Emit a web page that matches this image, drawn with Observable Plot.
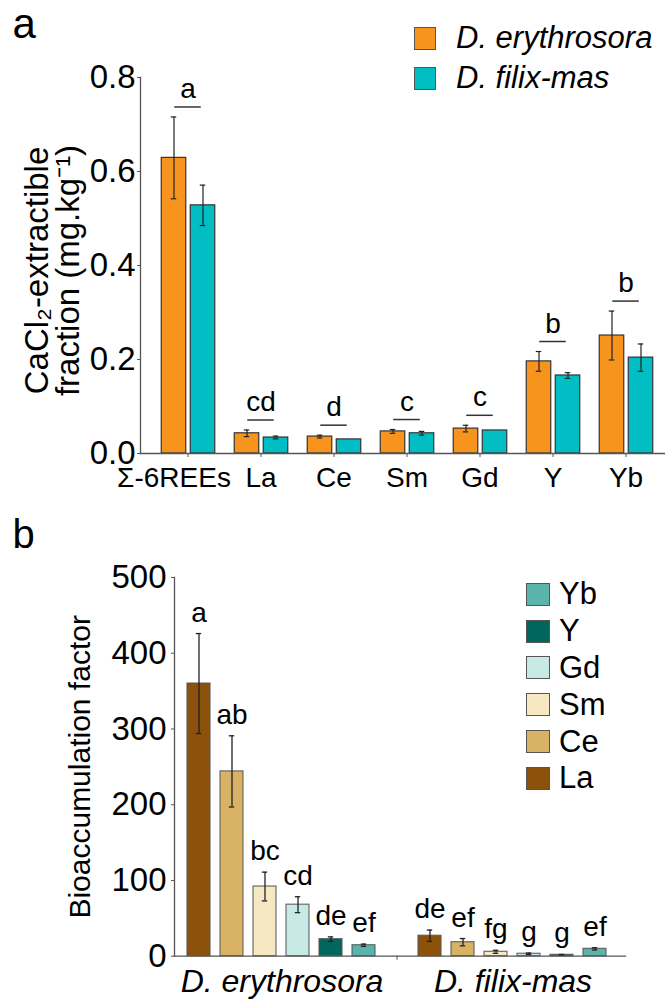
<!DOCTYPE html>
<html><head><meta charset="utf-8">
<script src="https://cdn.jsdelivr.net/npm/d3@7"></script>
<script src="https://cdn.jsdelivr.net/npm/@observablehq/plot@0.6"></script>
<style>
body{margin:0;background:#fff;font-family:"Liberation Sans",Arial,sans-serif;color:#000;}
.panel{position:relative;width:665px;height:500px;overflow:hidden;}
.legend{position:absolute;}
.row{display:flex;align-items:center;white-space:nowrap;}
.sw{box-sizing:border-box;border:1.3px solid #555;flex:none;}
</style></head><body>
<div id="pa" class="panel"></div>
<div id="pb" class="panel"></div>
<script>
// ---------- Panel a data ----------
const categoriesA = ["Σ-6REEs", "La", "Ce", "Sm", "Gd", "Y", "Yb"];
const speciesA = ["D. erythrosora", "D. filix-mas"];
const meanEry = [0.629, 0.043, 0.036, 0.047, 0.053, 0.196, 0.251];
const seEry   = [0.087, 0.007, 0.003, 0.004, 0.007, 0.021, 0.052];
const meanFil = [0.528, 0.034, 0.030, 0.043, 0.049, 0.166, 0.204];
const seFil   = [0.043, 0.003, 0.000, 0.004, 0.000, 0.006, 0.029];
const lettersA = ["a", "cd", "d", "c", "c", "b", "b"];
const ticksA = [0, 0.2, 0.4, 0.6, 0.8];
const colorsA = ["#f7941d", "#00bec4"];

// ---------- Panel b data ----------
const elementsB = ["La", "Ce", "Sm", "Gd", "Y", "Yb"];
const speciesB = ["D. erythrosora", "D. filix-mas"];
const bafEry    = [360, 244, 92, 68, 22.5, 14.5];
const bafEryErr = [66, 47, 19, 10.5, 3, 1.5];
const bafFil    = [27, 18.5, 5.8, 3.2, 1.8, 9.7];
const bafFilErr = [7.5, 4.8, 2, 1, 0.5, 1.5];
const lettersEry = ["a", "ab", "bc", "cd", "de", "ef"];
const lettersFil = ["de", "ef", "fg", "g", "g", "ef"];
const ticksB = [0, 100, 200, 300, 400, 500];
const colorsB = ["#8c510a", "#d8b365", "#f6e8c3", "#c7eae5", "#01665e", "#5ab4ac"];

const FONT = '"Liberation Sans", Arial, sans-serif';

// ---------- Panel a ----------
const ery = categoriesA.map((c, i) => ({cat: c, sp: speciesA[0], mean: meanEry[i], se: seEry[i]}));
const fil = categoriesA.map((c, i) => ({cat: c, sp: speciesA[1], mean: meanFil[i], se: seFil[i]}));
const sigA = categoriesA.map((c, i) => ({cat: c, letter: lettersA[i],
  top: Math.max(meanEry[i] + seEry[i], meanFil[i] + seFil[i])}));

function errMarks(data, dx, capInL, capInR, loFn, hiFn, x) {
  return [
    Plot.ruleX(data, {x, y1: loFn, y2: hiFn, dx, stroke: "#222", strokeWidth: 1.2}),
    Plot.tickY(data, {x, y: hiFn, insetLeft: capInL, insetRight: capInR, stroke: "#222", strokeWidth: 1.2}),
    Plot.tickY(data, {x, y: loFn, insetLeft: capInL, insetRight: capInR, stroke: "#222", strokeWidth: 1.2})
  ];
}

const chartA = Plot.plot({
  width: 665, height: 500,
  marginTop: 77, marginBottom: 47, marginLeft: 140, marginRight: 1,
  style: {fontFamily: FONT, fontSize: "29px", color: "#000", background: "transparent", overflow: "visible"},
  x: {type: "band", domain: categoriesA, padding: 0, paddingOuter: 0.065, align: 0.816},
  y: {domain: [0, 0.8]},
  color: {domain: speciesA, range: colorsA},
  marks: [
    Plot.barY(ery, {x: "cat", y: "mean", fill: "sp", stroke: "#333", strokeWidth: 1.2, insetLeft: 10.25, insetRight: 38.25}),
    Plot.barY(fil, {x: "cat", y: "mean", fill: "sp", stroke: "#333", strokeWidth: 1.2, insetLeft: 39.25, insetRight: 9.25}),
    ...errMarks(ery.filter(d => d.se > 0), -14, 19.75, 47.75, d => d.mean - d.se, d => d.mean + d.se, "cat"),
    ...errMarks(fil.filter(d => d.se > 0), 15, 48.75, 18.75, d => d.mean - d.se, d => d.mean + d.se, "cat"),
    Plot.tickY(sigA, {x: "cat", y: "top", dy: -10, insetLeft: 23.25, insetRight: 23.25, stroke: "#333", strokeWidth: 1.5}),
    Plot.text(sigA, {x: "cat", y: "top", text: "letter", dy: -19, lineAnchor: "bottom", fontSize: 28, fill: "#000"}),
    Plot.axisY({ticks: ticksA, tickFormat: d3.format(".1f"), tickSize: 3, tickPadding: 2, fontSize: 33, label: null, stroke: "#555", fill: "#000"}),
    Plot.axisX({tickSize: 4, tickPadding: 10, fontSize: 28, label: null, stroke: "#555", fill: "#000",
      tickFormat: d => d === categoriesA[0] ? "" : d}),
    Plot.text([categoriesA[0]], {x: d => d, y: () => 0, text: d => d, dx: -14, dy: 14, lineAnchor: "top", fontSize: 28, fill: "#000"}),
    Plot.frame({anchor: "left", stroke: "#555", strokeWidth: 1.3}),
    Plot.frame({anchor: "bottom", stroke: "#555", strokeWidth: 1.3}),
    Plot.text(["CaCl₂-extractible"], {frameAnchor: "left", text: d => d, rotate: -90, dx: -103.5, dy: 5, fontSize: 33, lineAnchor: "middle", textAnchor: "middle", fill: "#000"}),
    Plot.text(["fraction (mg.kg⁻¹)"], {frameAnchor: "left", text: d => d, rotate: -90, dx: -72.5, dy: 5, fontSize: 33, lineAnchor: "middle", textAnchor: "middle", fill: "#000"}),
    Plot.text(["a"], {frameAnchor: "top-left", text: d => d, dx: -128, dy: -40, fontSize: 42, lineAnchor: "bottom", textAnchor: "start", fill: "#000"})
  ]
});
document.getElementById("pa").appendChild(chartA);

// legend a
(function () {
  const col = chartA.scale("color");
  const lg = document.createElement("div");
  lg.className = "legend";
  lg.style.left = "414px"; lg.style.top = "18px";
  speciesA.forEach(s => {
    const r = document.createElement("div");
    r.className = "row"; r.style.height = "40px";
    const sw = document.createElement("div");
    sw.className = "sw"; sw.style.width = "22px"; sw.style.height = "23px";
    sw.style.background = col.apply(s);
    const t = document.createElement("span");
    t.textContent = s; t.style.fontStyle = "italic"; t.style.fontSize = "31px";
    t.style.marginLeft = "20px";
    r.append(sw, t); lg.appendChild(r);
  });
  document.getElementById("pa").appendChild(lg);
})();

// ---------- Panel b ----------
const keyOf = (sp, el) => sp + "|" + el;
const keysB = [...elementsB.map(e => keyOf(speciesB[0], e)), "gap", ...elementsB.map(e => keyOf(speciesB[1], e))];
const rowsB = [
  ...elementsB.map((e, i) => ({key: keyOf(speciesB[0], e), el: e, v: bafEry[i], err: bafEryErr[i], letter: lettersEry[i]})),
  ...elementsB.map((e, i) => ({key: keyOf(speciesB[1], e), el: e, v: bafFil[i], err: bafFilErr[i], letter: lettersFil[i]}))
];
const groupsB = speciesB.map(s => ({sp: s, key: keyOf(s, elementsB[2])}));

const chartB = Plot.plot({
  width: 665, height: 500,
  marginTop: 77, marginBottom: 44.3, marginLeft: 174, marginRight: 40,
  style: {fontFamily: FONT, fontSize: "30px", color: "#000", background: "transparent", overflow: "visible"},
  x: {type: "band", domain: keysB, paddingInner: 0.3, paddingOuter: 0.34, align: 0.4},
  y: {domain: [0, 500]},
  color: {domain: elementsB, range: colorsB},
  marks: [
    Plot.barY(rowsB, {x: "key", y: "v", fill: "el", stroke: "#555", strokeOpacity: 0.85, strokeWidth: 1.2}),
    Plot.ruleX(rowsB, {x: "key", y1: d => d.v - d.err, y2: d => d.v + d.err, stroke: "#222", strokeWidth: 1.3}),
    Plot.tickY(rowsB, {x: "key", y: d => d.v + d.err, insetLeft: 8.8, insetRight: 8.8, stroke: "#222", strokeWidth: 1.3}),
    Plot.tickY(rowsB, {x: "key", y: d => d.v - d.err, insetLeft: 8.8, insetRight: 8.8, stroke: "#222", strokeWidth: 1.3}),
    Plot.text(rowsB, {x: "key", y: d => d.v + d.err, text: "letter", dy: -12, lineAnchor: "bottom", fontSize: 28, fill: "#000"}),
    Plot.axisY({ticks: ticksB, tickSize: 3, tickPadding: 5, fontSize: 33, label: null, stroke: "#555", fill: "#000"}),
    Plot.axisX({ticks: ["gap"], tickFormat: () => "", tickSize: 4, label: null, stroke: "#555"}),
    Plot.frame({anchor: "left", stroke: "#555", strokeWidth: 1.3}),
    Plot.frame({anchor: "bottom", stroke: "#555", strokeWidth: 1.3}),
    Plot.text(groupsB, {x: "key", y: () => 0, text: "sp", dx: 17, dy: 36, lineAnchor: "bottom", fontSize: 32, fontStyle: "italic", fill: "#000"}),
    Plot.text(["Bioaccumulation factor"], {frameAnchor: "left", text: d => d, rotate: -90, dx: -94, dy: 0, fontSize: 30, lineAnchor: "middle", textAnchor: "middle", fill: "#000"}),
    Plot.text(["b"], {frameAnchor: "top-left", text: d => d, dx: -162, dy: -30, fontSize: 40, lineAnchor: "bottom", textAnchor: "start", fill: "#000"})
  ]
});
document.getElementById("pb").appendChild(chartB);

// legend b (top to bottom: reverse order of elements)
(function () {
  const col = chartB.scale("color");
  const lg = document.createElement("div");
  lg.className = "legend";
  lg.style.left = "526px"; lg.style.top = "76px";
  elementsB.slice().reverse().forEach(e => {
    const r = document.createElement("div");
    r.className = "row"; r.style.height = "36.8px";
    const sw = document.createElement("div");
    sw.className = "sw"; sw.style.width = "24px"; sw.style.height = "23px";
    sw.style.background = col.apply(e);
    const t = document.createElement("span");
    t.textContent = e; t.style.fontSize = "31px"; t.style.marginLeft = "9px";
    r.append(sw, t); lg.appendChild(r);
  });
  document.getElementById("pb").appendChild(lg);
})();
</script>
</body></html>
